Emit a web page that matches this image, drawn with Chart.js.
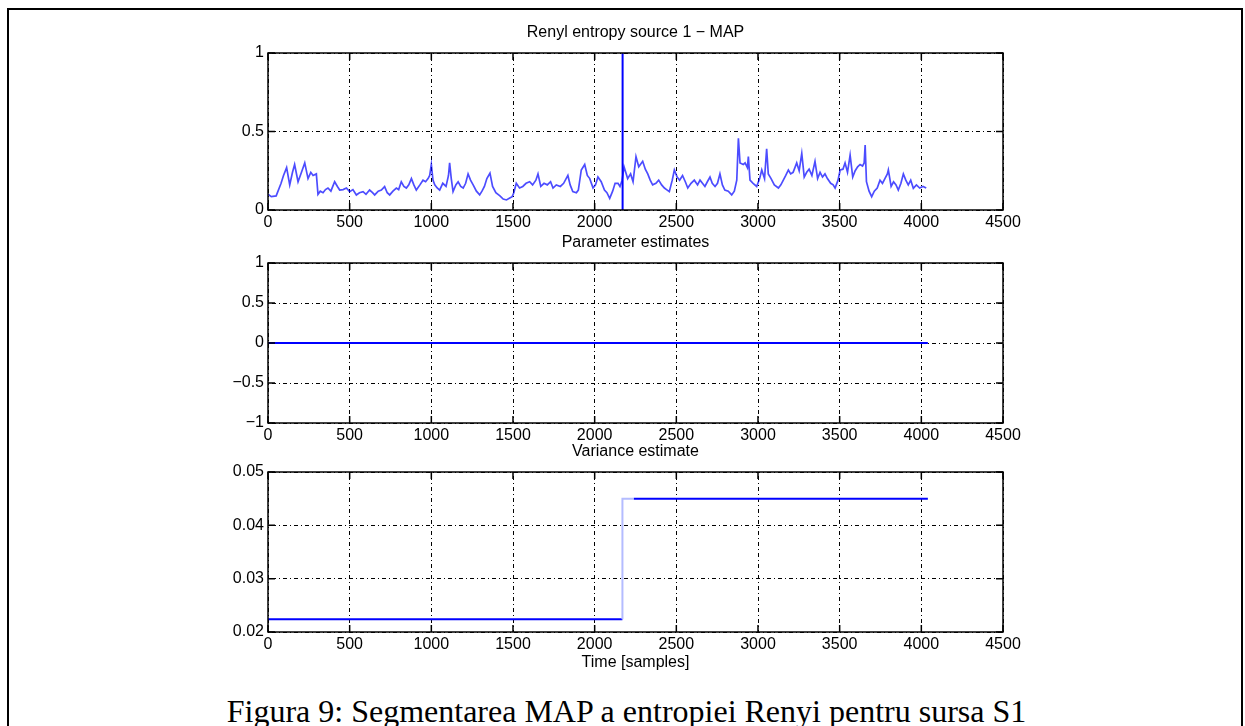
<!DOCTYPE html>
<html>
<head>
<meta charset="utf-8">
<script src="https://cdn.jsdelivr.net/npm/chart.js@4.4.1/dist/chart.umd.min.js"></script>
<style>
  body { margin: 0; background: #fff; width: 1245px; height: 726px; overflow: hidden; position: relative; }
  #frame { position: absolute; left: 7px; top: 8px; width: 1232px; height: 760px; border: 2px solid #000; }
  canvas { position: absolute; left: 0; }
  #caption { position: absolute; left: 0; width: 1253px; top: 695px; line-height: 32px; text-align: center;
             font-family: "Liberation Serif", "Times New Roman", serif; font-size: 32px; color: #000; white-space: nowrap; }
</style>
</head>
<body>
<div id="frame"></div>
<canvas id="entropyChart" width="1245" height="232" style="top:23px"></canvas>
<canvas id="paramChart" width="1245" height="235" style="top:233px"></canvas>
<canvas id="varChart" width="1245" height="235" style="top:442px"></canvas>
<div id="caption">Figura 9: Segmentarea MAP a entropiei Renyi pentru sursa S1</div>
<script>
// x axis (samples)
const xTicks = [0, 500, 1000, 1500, 2000, 2500, 3000, 3500, 4000, 4500];

// Renyi entropy, source 1
const sampleIdx = [
  0, 20, 50, 80, 95, 114, 133, 150, 163, 184, 205, 225, 245, 262, 276, 296, 306, 320, 337, 352,
  367, 385, 408, 425, 439, 460, 480, 500, 520, 541, 560, 582, 600, 622, 640, 653, 675, 694, 714, 730,
  745, 765, 786, 800, 816, 832, 847, 862, 878, 893, 908, 930, 949, 965, 980, 990, 1000, 1010, 1021, 1036,
  1051, 1070, 1090, 1105, 1112, 1122, 1133, 1150, 1164, 1180, 1195, 1210, 1225, 1240, 1256, 1276, 1296, 1310, 1325, 1340,
  1359, 1375, 1395, 1420, 1440, 1460, 1480, 1495, 1505, 1520, 1540, 1560, 1580, 1602, 1620, 1640, 1653, 1670, 1690, 1710,
  1730, 1745, 1765, 1790, 1810, 1836, 1850, 1866, 1888, 1900, 1918, 1939, 1955, 1970, 1990, 2005, 2020, 2040, 2060, 2075,
  2092, 2110, 2125, 2143, 2155, 2168, 2180, 2202, 2220, 2235, 2253, 2270, 2294, 2310, 2325, 2340, 2355, 2375, 2392, 2410,
  2427, 2440, 2457, 2475, 2488, 2505, 2520, 2538, 2555, 2570, 2590, 2610, 2630, 2645, 2660, 2675, 2690, 2706, 2720, 2737,
  2752, 2767, 2782, 2797, 2818, 2839, 2855, 2870, 2880, 2890, 2910, 2921, 2935, 2941, 2951, 2970, 2992, 3010, 3023, 3040,
  3053, 3063, 3080, 3100, 3125, 3140, 3155, 3170, 3186, 3200, 3215, 3237, 3252, 3268, 3283, 3298, 3313, 3330, 3349, 3365,
  3380, 3395, 3410, 3425, 3445, 3460, 3472, 3490, 3503, 3520, 3533, 3548, 3564, 3580, 3595, 3610, 3625, 3640, 3650, 3656,
  3664, 3680, 3696, 3712, 3730, 3747, 3762, 3777, 3792, 3798, 3815, 3830, 3845, 3859, 3875, 3890, 3905, 3920, 3935, 3951,
  3970, 3990, 4010, 4030
];
const entropy = [
  0.10, 0.085, 0.09, 0.17, 0.22, 0.27, 0.16, 0.24, 0.29, 0.18, 0.24, 0.30, 0.20, 0.24, 0.22, 0.23, 0.10, 0.12, 0.11, 0.13,
  0.14, 0.12, 0.18, 0.15, 0.127, 0.13, 0.14, 0.117, 0.13, 0.096, 0.11, 0.117, 0.10, 0.127, 0.11, 0.096, 0.12, 0.127, 0.149, 0.11,
  0.096, 0.12, 0.14, 0.13, 0.18, 0.15, 0.14, 0.16, 0.20, 0.16, 0.127, 0.16, 0.19, 0.18, 0.20, 0.22, 0.29, 0.19, 0.16, 0.14,
  0.127, 0.17, 0.15, 0.22, 0.30, 0.20, 0.117, 0.16, 0.18, 0.15, 0.14, 0.17, 0.23, 0.19, 0.16, 0.12, 0.096, 0.12, 0.15, 0.20,
  0.235, 0.15, 0.11, 0.09, 0.07, 0.064, 0.076, 0.085, 0.11, 0.17, 0.14, 0.15, 0.17, 0.18, 0.16, 0.19, 0.23, 0.15, 0.17, 0.16,
  0.18, 0.14, 0.16, 0.15, 0.17, 0.22, 0.16, 0.117, 0.11, 0.127, 0.255, 0.29, 0.22, 0.20, 0.14, 0.16, 0.21, 0.18, 0.127, 0.11,
  0.074, 0.12, 0.17, 0.17, 0.15, 0.19, 0.275, 0.20, 0.23, 0.18, 0.34, 0.275, 0.31, 0.26, 0.23, 0.19, 0.16, 0.17, 0.19, 0.16,
  0.14, 0.13, 0.117, 0.19, 0.255, 0.21, 0.19, 0.22, 0.18, 0.14, 0.17, 0.19, 0.16, 0.19, 0.17, 0.15, 0.18, 0.21, 0.17, 0.15,
  0.17, 0.23, 0.16, 0.127, 0.12, 0.096, 0.12, 0.19, 0.456, 0.30, 0.29, 0.30, 0.27, 0.34, 0.19, 0.17, 0.15, 0.20, 0.255, 0.20,
  0.39, 0.23, 0.20, 0.16, 0.14, 0.16, 0.19, 0.22, 0.255, 0.23, 0.24, 0.30, 0.25, 0.36, 0.21, 0.24, 0.26, 0.22, 0.31, 0.20,
  0.24, 0.21, 0.23, 0.20, 0.17, 0.16, 0.14, 0.19, 0.255, 0.26, 0.30, 0.24, 0.35, 0.21, 0.25, 0.275, 0.29, 0.28, 0.30, 0.414,
  0.18, 0.12, 0.085, 0.12, 0.14, 0.19, 0.17, 0.20, 0.23, 0.255, 0.15, 0.18, 0.16, 0.127, 0.17, 0.23, 0.19, 0.16, 0.19, 0.138,
  0.16, 0.14, 0.15, 0.14
];
const entropyTicks = [0, 0.5, 1];
const changeTime = [2171, 2171];
const changeLevel = [0, 1];

// parameter estimates
const paramTime = [0, 4040];
const paramValues = [0, 0];
const paramTicks = [-1, -0.5, 0, 0.5, 1];

// variance estimate
const varTime = [0, 2170, 2170, 2240, 4040];
const varValues = [0.0224, 0.0224, 0.045, 0.045, 0.045];
const varTicks = [0.02, 0.03, 0.04, 0.05];

const FONT = { family: '"Liberation Sans", Arial, sans-serif', size: 16, weight: 'normal' };
const BLUE = '#0000ff';

function pts(xs, ys) {
    return xs.map((x, i) => ({ x: x, y: ys[i] }));
}

// matlab style box with inward tick marks
const boxPlugin = {
    id: 'box',
    afterDraw(chart) {
        const ctx = chart.ctx;
        const a = chart.chartArea;
        const xs = chart.scales.x, ys = chart.scales.y;
        ctx.save();
        ctx.strokeStyle = '#000';
        ctx.lineWidth = 1.5;
        ctx.setLineDash([]);
        ctx.strokeRect(a.left, a.top, a.right - a.left, a.bottom - a.top);
        ctx.beginPath();
        xs.ticks.forEach(t => {
            const px = xs.getPixelForValue(t.value);
            ctx.moveTo(px, a.bottom); ctx.lineTo(px, a.bottom - 7);
            ctx.moveTo(px, a.top); ctx.lineTo(px, a.top + 7);
        });
        ys.ticks.forEach(t => {
            const py = ys.getPixelForValue(t.value);
            ctx.moveTo(a.left, py); ctx.lineTo(a.left + 7, py);
            ctx.moveTo(a.right, py); ctx.lineTo(a.right - 7, py);
        });
        ctx.stroke();
        ctx.restore();
    }
};

function makeChart(id, title, datasets, yTicks, yMin, yMax, fmt, xTitle) {
    const ctx = document.getElementById(id).getContext("2d");
    return new Chart(ctx, {
        type: 'line',
        data: { datasets: datasets },
        options: {
            responsive: false,
            animation: false,
            devicePixelRatio: 1,
            layout: { padding: { left: 208, right: 242, top: 0, bottom: 0 } },
            plugins: {
                legend: { display: false },
                tooltip: { enabled: false },
                title: {
                    display: true, text: title, fullSize: false, color: '#000',
                    font: FONT, padding: { top: 0, bottom: 10.8 }
                }
            },
            elements: { point: { radius: 0 }, line: { tension: 0 } },
            scales: {
                x: {
                    type: 'linear', min: 0, max: 4500,
                    afterBuildTicks: s => { s.ticks = xTicks.map(v => ({ value: v })); },
                    afterFit: s => { s.height = 45; },
                    grid: { color: '#000', lineWidth: 1, drawTicks: false },
                    border: { display: false, dash: [1, 3, 4, 3] },
                    ticks: { color: '#000', font: FONT, padding: 3, maxRotation: 0, callback: v => String(v) },
                    title: {
                        display: !!xTitle, text: xTitle || '', color: '#000', font: FONT,
                        padding: { top: 0, bottom: 4.4 }
                    }
                },
                y: {
                    min: yMin, max: yMax,
                    afterBuildTicks: s => { s.ticks = yTicks.map(v => ({ value: v })); },
                    afterFit: s => { s.width = 60; },
                    grid: { color: '#000', lineWidth: 1, drawTicks: false },
                    border: { display: false, dash: [1, 3, 4, 3] },
                    ticks: { color: '#000', font: FONT, padding: 4, callback: fmt }
                }
            }
        },
        plugins: [boxPlugin]
    });
}

const plainFmt = v => String(v).replace('-', '\u2212');

makeChart("entropyChart", "Renyl entropy source 1 \u2212 MAP", [
    { data: pts(sampleIdx, entropy), borderColor: 'rgba(0,0,255,0.7)', borderWidth: 1.7 },
    { data: pts(changeTime, changeLevel), borderColor: BLUE, borderWidth: 2 }
], entropyTicks, 0, 1, plainFmt);

makeChart("paramChart", "Parameter estimates", [
    { data: pts(paramTime, paramValues), borderColor: BLUE, borderWidth: 2 }
], paramTicks, -1, 1, plainFmt);

makeChart("varChart", "Variance estimate", [
    {
        data: pts(varTime, varValues), borderColor: BLUE, borderWidth: 2,
        segment: { borderColor: c => (c.p0DataIndex === 1 || c.p0DataIndex === 2) ? '#b4bcff' : BLUE }
    }
], varTicks, 0.02, 0.05, v => v.toFixed(2), "Time [samples]");
</script>
</body>
</html>
